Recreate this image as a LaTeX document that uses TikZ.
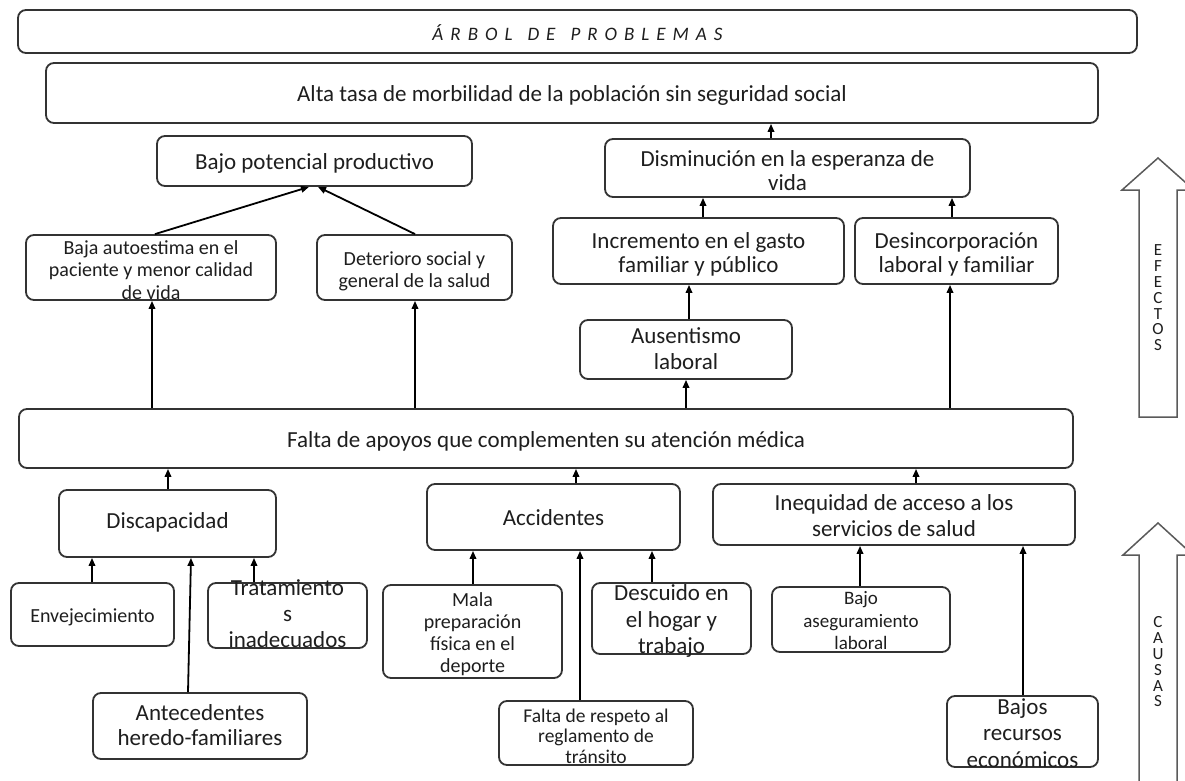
\documentclass[tikz,border=0pt]{standalone}
\usepackage{fontspec}
\setmainfont{Carlito}
\usetikzlibrary{arrows.meta}
\definecolor{boxc}{HTML}{333333}
\definecolor{txt}{HTML}{1E1E1E}
\definecolor{bigc}{HTML}{5A5A5A}
\tikzset{
  box/.style={draw=boxc, line width=1.8pt, rounded corners=8pt, inner sep=0pt, fill=white},
  lbl/.style={align=center, text=txt, inner sep=0pt},
  fbig/.style={font=\fontsize{23}{26}\selectfont},
  conn/.style={draw=black, line width=1.8pt, -{Triangle[length=8pt,width=6.5pt]}},
  bigarrow/.style={draw=bigc, line width=1.5pt, line join=miter},
  vert/.style={align=center, text=txt, inner sep=0pt, font=\fontsize{17}{15.8}\selectfont},
}
\newcommand{\bx}[5]{\node[box, minimum width={#4pt-#2pt}, minimum height={#5pt-#3pt}] (#1) at ({(#2+#4)/2},{(#3+#5)/2}) {};}
\begin{document}
\begin{tikzpicture}[x=1pt,y=-1pt]
\useasboundingbox (0,0) rectangle (1185,781);
\clip (0,0) rectangle (1185,781);
\fill[white] (0,0) rectangle (1185,781);
% boxes
\bx{title}{18}{10}{1137}{53}
\bx{alta}{46}{63}{1098}{123}
\bx{bajo}{157}{136}{472}{186}
\bx{dism}{605}{139}{970}{197}
\bx{baja}{26}{235}{276}{300}
\bx{det}{317}{235}{512}{300}
\bx{inc}{553}{218}{844}{284}
\bx{des}{855}{218}{1058}{284}
\bx{aus}{580}{320}{792}{379}
\bx{falta}{19}{409}{1073}{468}
\bx{disc}{59}{490}{276}{557}
\bx{acc}{427}{484}{680}{550}
\bx{ineq}{713}{484}{1075}{545}
\bx{env}{11}{583}{174}{646}
\bx{trat}{208}{583}{367}{648}
\bx{ante}{93}{693}{307}{759}
\bx{mala}{383}{585}{562}{678}
\bx{resp}{499}{701}{693}{765}
\bx{desc}{592}{583}{751}{654}
\bx{aseg}{772}{587}{950}{652}
\bx{bajos}{947}{696}{1098}{767}
% texts
\node[lbl, font=\fontsize{19}{22}\selectfont\itshape] (titlet) at (title.center |- 0,33)
  {Á\hspace{7pt}R\hspace{7pt}B\hspace{7pt}O\hspace{7pt}L\hspace{15pt}D\hspace{7pt}E\hspace{15pt}P\hspace{7pt}R\hspace{7pt}O\hspace{7pt}B\hspace{7pt}L\hspace{7pt}E\hspace{7pt}M\hspace{7pt}A\hspace{7pt}S};
\node[lbl, fbig] (altat) at (alta.center |- 0,95) {Alta tasa de morbilidad de la población sin seguridad social};
\node[lbl, fbig] (bajot) at (bajo.center |- 0,163) {Bajo potencial productivo};
\node[lbl, font=\fontsize{23}{24}\selectfont] (dismt) at (dism.center |- 0,171) {Disminución en la esperanza de\\vida};
\node[lbl, font=\fontsize{20}{22.5}\selectfont] (bajat) at (baja.center |- 0,270) {Baja autoestima en el\\paciente y menor calidad\\de vida};
\node[lbl, font=\fontsize{20}{22}\selectfont] (dett) at (det.center |- 0,271) {Deterioro social y\\general de la salud};
\node[lbl, font=\fontsize{23}{24}\selectfont] (inct) at (inc.center |- 0,254) {Incremento en el gasto\\familiar y público};
\node[lbl, font=\fontsize{23}{24}\selectfont] (dest) at (des.center |- 0,254) {Desincorporación\\laboral y familiar};
\node[lbl, font=\fontsize{23}{26}\selectfont] (aust) at (aus.center |- 0,349) {Ausentismo\\laboral};
\node[lbl, fbig] (faltat) at (falta.center |- 0,441) {Falta de apoyos que complementen su atención médica};
\node[lbl, fbig] (disct) at (disc.center |- 0,522) {Discapacidad};
\node[lbl, fbig] (acct) at (acc.center |- 0,518) {Accidentes};
\node[lbl, font=\fontsize{23}{26}\selectfont] (ineqt) at (ineq.center |- 0,516) {Inequidad de acceso a los\\servicios de salud};
\node[lbl, font=\fontsize{20}{22}\selectfont] (envt) at (env.center |- 0,617) {Envejecimiento};
\node[lbl, font=\fontsize{23}{26}\selectfont] (tratt) at (trat.center |- 0,614) {Tratamiento\\s\\inadecuados};
\node[lbl, font=\fontsize{23}{25}\selectfont] (antet) at (ante.center |- 0,725) {Antecedentes\\heredo-familiares};
\node[lbl, font=\fontsize{20}{22}\selectfont] (malat) at (mala.center |- 0,634) {Mala\\preparación\\física en el\\deporte};
\node[lbl, font=\fontsize{19.5}{20.5}\selectfont] (respt) at (resp.center |- 0,736) {Falta de respeto al\\reglamento de\\tránsito};
\node[lbl, font=\fontsize{23}{26.5}\selectfont] (desct) at (desc.center |- 0,621) {Descuido en\\el hogar y\\trabajo};
\node[lbl, font=\fontsize{19}{22.5}\selectfont] (asegt) at (aseg.center |- 0,621) {Bajo\\aseguramiento\\laboral};
\node[lbl, font=\fontsize{23}{26.5}\selectfont] (bajost) at (bajos.center |- 0,733) {Bajos\\recursos\\económicos};
% connectors
\draw[conn] (dism.north -| 771,0) -- (alta.south -| 771,0);
\draw[conn] (baja.north -| 155,0) -- (bajo.south -| 309,0);
\draw[conn] (det.north -| 415,0) -- (bajo.south -| 318,0);
\draw[conn] (inc.north -| 703,0) -- (dism.south -| 703,0);
\draw[conn] (des.north -| 952,0) -- (dism.south -| 952,0);
\draw[conn] (aus.north -| 689,0) -- (inc.south -| 689,0);
\draw[conn] (falta.north -| 152,0) -- (baja.south -| 152,0);
\draw[conn] (falta.north -| 415,0) -- (det.south -| 415,0);
\draw[conn] (falta.north -| 686,0) -- (aus.south -| 686,0);
\draw[conn] (falta.north -| 950,0) -- (des.south -| 950,0);
\draw[conn] (disc.north -| 168,0) -- (falta.south -| 168,0);
\draw[conn] (acc.north -| 576,0) -- (falta.south -| 576,0);
\draw[conn] (ineq.north -| 916,0) -- (falta.south -| 916,0);
\draw[conn] (env.north -| 92,0) -- (disc.south -| 92,0);
\draw[conn] (ante.north -| 188,0) -- (disc.south -| 191,0);
\draw[conn] (trat.north -| 254,0) -- (disc.south -| 254,0);
\draw[conn] (mala.north -| 473,0) -- (acc.south -| 473,0);
\draw[conn] (resp.north -| 580,0) -- (acc.south -| 580,0);
\draw[conn] (desc.north -| 652,0) -- (acc.south -| 652,0);
\draw[conn] (aseg.north -| 860,0) -- (ineq.south -| 860,0);
\draw[conn] (bajos.north -| 1023,0) -- (ineq.south -| 1023,0);
% big arrows
\draw[bigarrow] (1139,417) -- (1139,190) -- (1122,190) -- (1158,158) -- (1194,190) -- (1177,190) -- (1177,417) -- cycle;
\node[vert] (efectos) at (1158,298) {E\\F\\E\\C\\T\\O\\S};
\draw[bigarrow] (1139,800) -- (1139,555) -- (1123,555) -- (1158,523) -- (1193,555) -- (1177,555) -- (1177,800);
\node[vert] (causas) at (1158,662) {C\\A\\U\\S\\A\\S};
\end{tikzpicture}
\end{document}
